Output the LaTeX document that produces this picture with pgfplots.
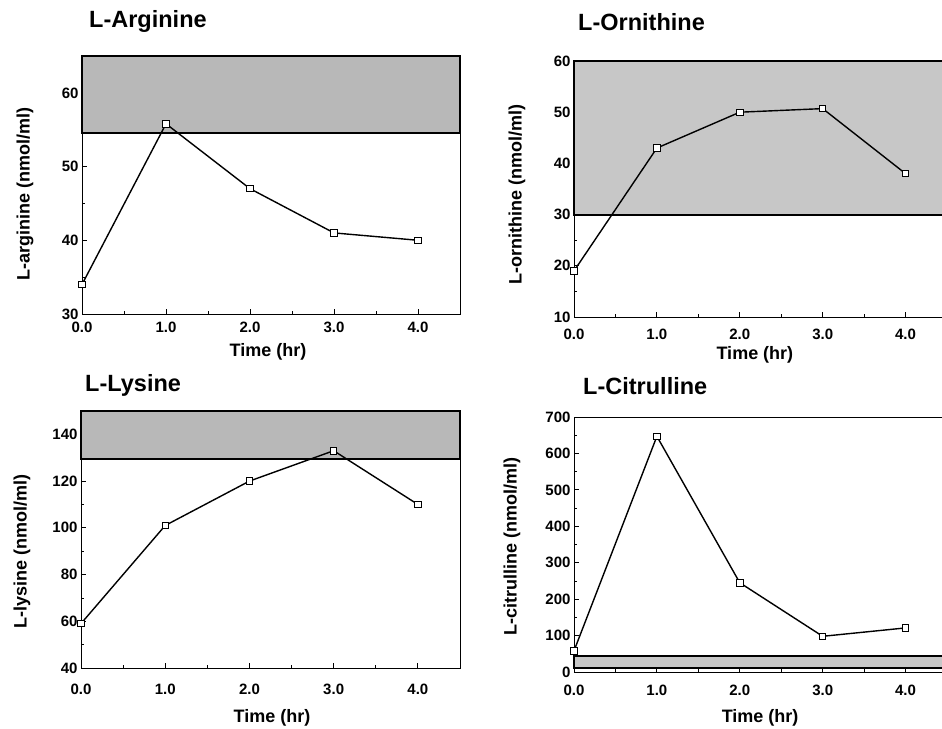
\documentclass[border=0pt]{standalone}
\usepackage{pgfplots}
\pgfplotsset{compat=1.18}
\usepackage{fontspec}
\setmainfont{Liberation Sans}

\pgfplotsset{
  panel/.style={
    scale only axis,
    anchor=south west,
    xmin=0, xmax=4.5,
    xtick={0,1,2,3,4},
    xticklabels={0.0,1.0,2.0,3.0,4.0},
    minor x tick num=1,
    minor y tick num=1,
    tick align=inside,
    tick pos=left,
    major tick length=5pt,
    minor tick length=3pt,
    tick style={line width=0.8pt, black},
    axis line style={line width=0.8pt},
    /pgf/number format/assume math mode=true,
    ticklabel style={font=\fontsize{15}{15}\selectfont\bfseries},
    label style={font=\fontsize{18}{18}\selectfont\bfseries},
    xlabel={Time (hr)},
    clip=false,
  },
  band/.style={draw=black, line width=2pt, fill=black!28},
  series/.style={black, line width=1.4pt, mark=square*, mark size=3.2pt,
    mark options={fill=white, line width=0.8pt, solid}},
}
\tikzset{ttl/.style={anchor=base west, inner sep=0pt, font=\fontsize{23.5}{23.5}\selectfont\bfseries}}

\begin{document}
\begin{tikzpicture}
\useasboundingbox (0pt,0pt) rectangle (942pt,728pt);

% ---------- L-Arginine ----------
\begin{axis}[panel, at={(82pt,414pt)}, width=378pt, height=258pt,
  ymin=30, ymax=65, ytick={30,40,50,60},
  ylabel={L-arginine (nmol/ml)},
  ylabel style={at={(axis description cs:-0.151,0.465)}, anchor=center},
  xlabel style={at={(axis description cs:0.492,-0.147)}, anchor=center},
  xticklabel style={yshift=-4pt}]
\addplot[band] coordinates {(0,54.5) (4.5,54.5) (4.5,65) (0,65)} -- cycle;
\addplot[series] coordinates {(0,34) (1,55.8) (2,47) (3,41) (4,40)};
\end{axis}
\node[ttl] at (89pt,700pt) {L-Arginine};

% ---------- L-Ornithine ----------
\begin{axis}[panel, at={(574pt,411pt)}, width=373pt, height=256pt,
  ymin=10, ymax=60, ytick={10,20,30,40,50,60},
  ylabel={L-ornithine (nmol/ml)},
  ylabel style={at={(axis description cs:-0.153,0.477)}, anchor=center},
  xlabel style={at={(axis description cs:0.485,-0.148)}, anchor=center},
  xticklabel style={yshift=-8pt}]
\addplot[band, fill=black!22] coordinates {(0,30) (4.5,30) (4.5,60) (0,60)} -- cycle;
\addplot[series] coordinates {(0,19) (1,43) (2,50) (3,50.7) (4,38)};
\end{axis}
\node[ttl] at (578pt,697pt) {L-Ornithine};

% ---------- L-Lysine ----------
\begin{axis}[panel, at={(81pt,60pt)}, width=379pt, height=257pt,
  ymin=40, ymax=150, ytick={40,60,80,100,120,140},
  ylabel={L-lysine (nmol/ml)},
  ylabel style={at={(axis description cs:-0.156,0.452)}, anchor=center},
  xlabel style={at={(axis description cs:0.504,-0.195)}, anchor=center},
  xticklabel style={yshift=-12pt}]
\addplot[band] coordinates {(0,129.5) (4.5,129.5) (4.5,150) (0,150)} -- cycle;
\addplot[series] coordinates {(0,59) (1,101) (2,120) (3,133) (4,110)};
\end{axis}
\node[ttl] at (85pt,336pt) {L-Lysine};

% ---------- L-Citrulline ----------
\begin{axis}[panel, at={(574pt,56pt)}, width=373pt, height=255pt,
  ymin=0, ymax=700, ytick={0,100,200,300,400,500,600,700},
  ylabel={L-citrulline (nmol/ml)},
  ylabel style={at={(axis description cs:-0.166,0.494)}, anchor=center},
  xlabel style={at={(axis description cs:0.499,-0.180)}, anchor=center},
  xticklabel style={yshift=-9pt}]
\addplot[draw=black, line width=1.2pt, fill=black!22] coordinates {(0,11) (4.5,11) (4.5,44) (0,44)} -- cycle;
\addplot[series] coordinates {(0,58) (1,647) (2,245) (3,98) (4,121)};
\end{axis}
\node[ttl] at (583pt,333pt) {L-Citrulline};

\end{tikzpicture}
\end{document}
